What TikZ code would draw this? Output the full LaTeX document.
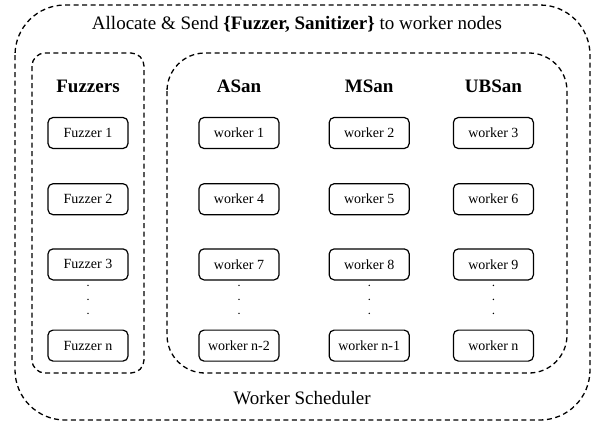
\documentclass[tikz,border=0pt]{standalone}
\usepackage{fontspec}
\setmainfont{Liberation Serif}
\usepackage{tikz}
\usetikzlibrary{positioning}

\begin{document}
\begin{tikzpicture}[
        x=1pt, y=1pt,
        node distance=34pt and 49pt,
        worker/.style={rectangle, draw, rounded corners=5pt, line width=1.2pt,
                       minimum width=80pt, minimum height=31pt, inner sep=0pt,
                       font=\fontsize{14}{16}\selectfont},
        group/.style={draw, line width=1.3pt, dash pattern=on 5pt off 3.5pt},
        header/.style={font=\fontsize{19}{22}\selectfont\bfseries},
        caption/.style={anchor=base, font=\fontsize{19}{22}\selectfont}
      ]
      \useasboundingbox (0,0) rectangle (592,-423);

      % Fuzzer column
      \node (fuzz1) [worker] at (88,-133) {Fuzzer 1};
      \node (fuzz2) [worker, below=34pt of fuzz1] {Fuzzer 2};
      \node (fuzz3) [worker, below=33pt of fuzz2] {Fuzzer 3};
      \node (fuzzn) [worker, below=49pt of fuzz3] {Fuzzer n};

      % Worker grid (ASan / MSan / UBSan)
      \node (w1) [worker] at (239,-133) {worker 1};
      \node (w2) [worker, right=49pt of w1] {worker 2};
      \node (w3) [worker, right=43pt of w2] {worker 3};
      \node (w4) [worker, below=34pt of w1] {worker 4};
      \node (w5) [worker, below=34pt of w2] {worker 5};
      \node (w6) [worker, below=34pt of w3] {worker 6};
      \node (w7) [worker, below=33pt of w4] {worker 7};
      \node (w8) [worker, below=33pt of w5] {worker 8};
      \node (w9) [worker, below=33pt of w6] {worker 9};
      \node (wn2) [worker, below=49pt of w7] {worker n-2};
      \node (wn1) [worker, below=49pt of w8] {worker n-1};
      \node (wn) [worker, below=49pt of w9] {worker n};

      % Column headers
      \node (fuzzers) [header, above=21pt of fuzz1] {Fuzzers};
      \node (asan) [header, above=21pt of w1] {ASan};
      \node (msan) [header, above=21pt of w2] {MSan};
      \node (ubsan) [header, above=21pt of w3] {UBSan};

      % vertical dots
      \foreach \col in {fuzz3, w7, w8, w9}
        \foreach \dy in {21, 35, 49}
          \fill ([yshift=-\dy pt]\col.center) circle (0.8pt);

      % Dashed groups
      \draw [group, rounded corners=50pt] (15,-5) rectangle (590,-420);
      \draw [group, rounded corners=13pt] (32,-53) rectangle (144,-373);
      \draw [group, rounded corners=38pt] (167,-53) rectangle (567,-373);

      % Captions
      \node (alloc) [caption] at (297,-29) {Allocate \& Send \textbf{\{Fuzzer, Sanitizer\}} to worker nodes};
      \node (sched) [caption] at (302,-404) {Worker Scheduler};

    \end{tikzpicture}
\end{document}
